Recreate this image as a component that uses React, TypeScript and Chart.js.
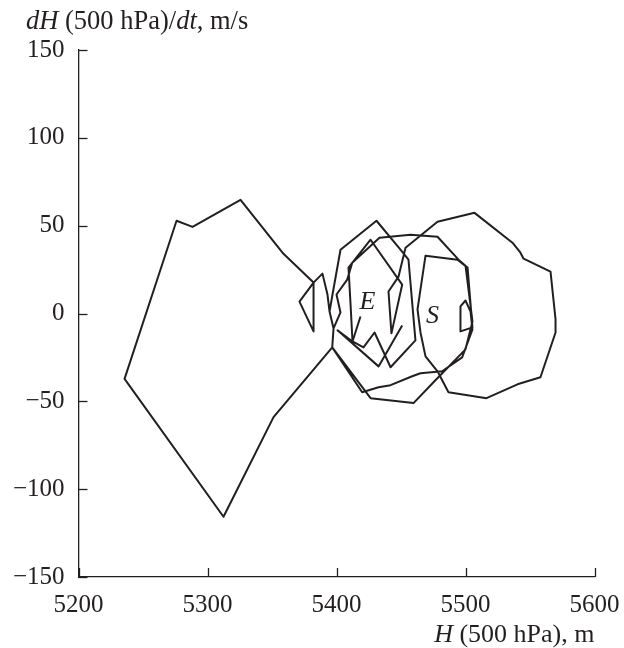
import React, { useEffect, useRef } from "react";
import { Chart, registerables } from "chart.js";

Chart.register(...registerables);

// Trajectory: H (500 hPa), m  vs  dH/dt, m/s
const H: number[] = [
  5418.6, 5412.4, 5410.9, 5409.3, 5426.4, 5450.9, 5442.6, 5440.3, 5448.1, 5453.5,
  5478.3, 5507.0, 5536.4, 5542.6, 5545.0, 5565.9, 5569.8, 5569.8, 5558.1, 5540.3,
  5516.3, 5486.8, 5478.3, 5469.0, 5465.1, 5462.8, 5469.0, 5493.8, 5501.6, 5505.4,
  5496.1, 5496.1, 5500.0, 5503.9, 5505.4, 5497.4, 5481.9, 5465.1, 5458.7, 5441.9,
  5432.6, 5419.9, 5396.7, 5351.2, 5312.4, 5235.7, 5276.0, 5288.4, 5325.6, 5358.9,
  5382.2, 5371.3, 5382.2, 5382.2, 5389.1, 5393.0, 5394.6, 5397.7, 5403.1, 5400.0,
  5408.3, 5412.2, 5433.3, 5457.4, 5478.3, 5495.3, 5500.0, 5505.4, 5500.0, 5475.2,
  5459.7, 5426.4, 5396.7, 5397.7, 5394.6, 5396.9, 5403.1, 5431.0, 5449.6, 5455.8,
  5461.2, 5441.9, 5429.5, 5420.9, 5412.4, 5400.8, 5432.6, 5450.9,
];
const dHdt: number[] = [
  -1.7, -15.9, 5.1, 26.1, 42.0, 16.4, -11.3, 12.5, 21.0, 37.4,
  52.2, 57.3, 40.3, 34.6, 31.2, 23.8, -3.4, -10.8, -36.3, -40.3,
  -48.2, -44.8, -32.9, -24.4, -10.8, 2.3, 32.9, 30.6, 26.1, -7.9,
  -10.2, 4.0, 7.4, 1.1, -9.1, -25.0, -32.9, -34.0, -35.7, -40.8,
  -42.0, -44.8, -19.3, -59.0, -115.7, -37.2, 52.8, 49.3, 64.7, 34.0,
  17.6, 6.8, -10.2, 17.6, 22.7, 10.8, 1.1, -8.5, 0.6, 10.8,
  19.3, 28.9, 43.1, 44.8, 43.7, 30.1, 27.2, -4.5, -20.4, -39.1,
  -51.0, -48.2, -19.3, -8.5, 1.1, 10.8, 36.3, 52.8, 36.3, 30.6,
  -15.3, -30.6, -10.8, -19.3, -15.9, -9.6, -30.1, -6.8,
];

// Point annotations
const markerText: string[] = ["E", "S"];
const markerH: number[] = [5424.0, 5474.5];
const markerD: number[] = [6.3, -1.4];

// Axis ranges / ticks
const xMin = 5200, xMax = 5600, xStep = 100;
const yMin = -150, yMax = 150, yStep = 50;

const yTitleParts: [string, boolean][] = [["dH", true], [" (500 hPa)/", false], ["dt", true], [", m/s", false]];
const xTitleParts: [string, boolean][] = [["H", true], [" (500 hPa), m", false]];

const INK = "#231f20";
const FAMILY = '"Liberation Serif", "DejaVu Serif", "Times New Roman", serif';

function drawParts(ctx: CanvasRenderingContext2D, parts: [string, boolean][], x: number, y: number, size: number, alignRight: boolean) {
  const fontFor = (it: boolean) => `${it ? "italic " : ""}${size}px ${FAMILY}`;
  let total = 0;
  for (const [t, it] of parts) { ctx.font = fontFor(it); total += ctx.measureText(t).width; }
  let cx = alignRight ? x - total : x;
  ctx.textAlign = "left";
  ctx.textBaseline = "alphabetic";
  for (const [t, it] of parts) {
    ctx.font = fontFor(it);
    ctx.fillText(t, cx, y);
    cx += ctx.measureText(t).width;
  }
}

const decorPlugin = {
  id: "decor",
  afterDraw(chart: any) {
    const ctx: CanvasRenderingContext2D = chart.ctx;
    const xs = chart.scales.x;
    const ys = chart.scales.y;
    const area = chart.chartArea;
    ctx.save();
    ctx.strokeStyle = INK;
    ctx.fillStyle = INK;
    ctx.lineWidth = 1.3;
    // inward tick marks
    for (const t of xs.ticks) {
      const px = Math.round(xs.getPixelForValue(t.value)) + 0.5;
      ctx.beginPath();
      ctx.moveTo(px, area.bottom);
      ctx.lineTo(px, area.bottom - 9);
      ctx.stroke();
    }
    for (const t of ys.ticks) {
      const py = Math.round(ys.getPixelForValue(t.value)) + 0.5;
      ctx.beginPath();
      ctx.moveTo(area.left, py);
      ctx.lineTo(area.left + 9, py);
      ctx.stroke();
    }
    // axis titles
    drawParts(ctx, yTitleParts, 26, 29, 26.5, false);
    drawParts(ctx, xTitleParts, area.right, 642, 26, true);
    // E / S labels
    ctx.font = `italic 26px ${FAMILY}`;
    ctx.textAlign = "center";
    ctx.textBaseline = "middle";
    for (let i = 0; i < markerText.length; i++) {
      ctx.fillText(markerText[i], xs.getPixelForValue(markerH[i]), ys.getPixelForValue(markerD[i]));
    }
    ctx.restore();
  },
};

export default function App() {
  const ref = useRef<HTMLCanvasElement | null>(null);
  useEffect(() => {
    if (!ref.current) return;
    const points = H.map((h, i) => ({ x: h, y: dHdt[i] }));
    const chart = new Chart(ref.current, {
      type: "scatter",
      data: {
        datasets: [
          {
            data: points,
            showLine: true,
            borderColor: INK,
            borderWidth: 2,
            pointRadius: 0,
            tension: 0,
            fill: false,
            borderJoinStyle: "round",
          } as any,
        ],
      },
      options: {
        animation: false,
        responsive: true,
        maintainAspectRatio: false,
        layout: { padding: { top: 50, right: 29.5, bottom: 0, left: 0 } },
        plugins: { legend: { display: false }, tooltip: { enabled: false }, title: { display: false } },
        scales: {
          x: {
            type: "linear",
            min: xMin,
            max: xMax,
            grid: { display: false, drawTicks: false },
            border: { display: true, color: INK, width: 1.3 },
            ticks: {
              stepSize: xStep,
              padding: 13,
              color: INK,
              font: { family: FAMILY, size: 25 },
              callback: (v: any) => String(v),
            },
            afterFit: (s: any) => { s.height = 71; s.paddingLeft = 0; s.paddingRight = 0; },
          },
          y: {
            type: "linear",
            min: yMin,
            max: yMax,
            grid: { display: false, drawTicks: false },
            border: { display: true, color: INK, width: 1.3 },
            ticks: {
              stepSize: yStep,
              padding: 14,
              color: INK,
              font: { family: FAMILY, size: 25 },
              callback: (v: any) => (Number(v) < 0 ? "\u2212" + Math.abs(Number(v)) : String(v)),
            },
            afterFit: (s: any) => { s.width = 78.5; s.paddingTop = 0; s.paddingBottom = 0; },
          },
        },
      },
      plugins: [decorPlugin],
    });
    return () => chart.destroy();
  }, []);
  return (
    <div style={{ position: "fixed", left: 0, top: 0, width: 624, height: 648, background: "#fff" }}>
      <canvas ref={ref} />
    </div>
  );
}
